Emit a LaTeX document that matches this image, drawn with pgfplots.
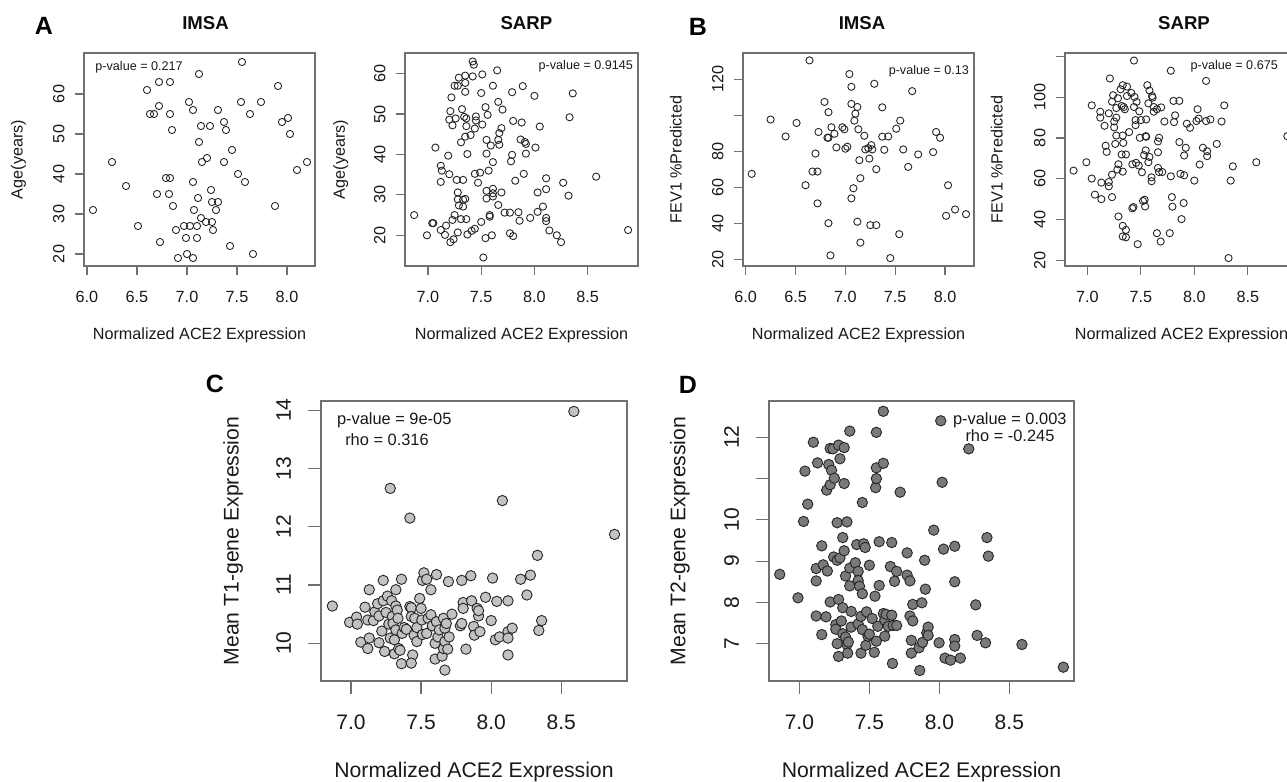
\documentclass[border=0pt]{standalone}
\usepackage{fontspec}
\setmainfont{Liberation Sans}
\usepackage{pgfplots}
\pgfplotsset{compat=1.18}
\definecolor{boxgray}{HTML}{707070}
\definecolor{lightpt}{HTML}{C2C2C2}
\definecolor{darkpt}{HTML}{7A7A7A}

\tikzset{
  ptext/.style={font=\fontsize{6.3}{7}\selectfont, text=black!90, inner sep=0pt},
  ptextb/.style={font=\fontsize{8.2}{9}\selectfont, text=black!90, inner sep=0pt},
}
\pgfplotsset{
  rbase/.style={
    scale only axis,
    axis line style={boxgray, line width=0.6pt},
    tick style={boxgray, line width=0.6pt},
    tick align=outside,
    xtick pos=bottom, ytick pos=left,
    minor tick num=0,
    /pgf/number format/assume math mode=true,
    every tick label/.append style={text=black!90},
    xticklabel style={anchor=base, inner sep=0pt},
    yticklabel style={rotate=90, anchor=base, inner sep=0pt},
    xlabel style={anchor=center, inner sep=0pt, text=black!90},
    ylabel style={anchor=center, inner sep=0pt, text=black!90},
    xlabel={Normalized ACE2 Expression},
  },
  toprow/.style={
    rbase, width=115.5pt, height=106.5pt,
    major tick length=4.5pt,
    tick label style={font=\fontsize{8.1}{10}\selectfont},
    label style={font=\fontsize{8.1}{10}\selectfont},
    xticklabel shift=13.8pt, yticklabel shift=5.3pt,
    xlabel style={at={(axis description cs:0.5,-0.324)}},
  },
  botrow/.style={
    rbase, height=140pt,
    major tick length=6.5pt,
    tick label style={font=\fontsize{10.5}{12}\selectfont},
    label style={font=\fontsize{10.6}{12}\selectfont},
    xticklabel shift=17.6pt, yticklabel shift=8.6pt,
    xtick={7,7.5,8,8.5}, xticklabels={7.0,7.5,8.0,8.5},
    xlabel style={at={(axis description cs:0.5,-0.324)}},
  },
  hollow/.style={only marks, mark=o, mark size=1.8pt,
    mark options={line width=0.45pt, draw=black!85}},
  filled/.style={only marks, mark=*, mark size=2.6pt,
    mark options={line width=0.45pt, draw=black!85, fill=#1}},
}

\begin{document}
\begin{tikzpicture}
\useasboundingbox (0,0) rectangle (643.5pt,391pt);
\clip (0,0) rectangle (643.5pt,391pt);

% ---------------- A: IMSA ----------------
\begin{axis}[toprow, at={(42pt,258pt)}, anchor=south west,
  xmin=5.97, xmax=8.28, ymin=17, ymax=70.25,
  xtick={6,6.5,7,7.5,8}, xticklabels={6.0,6.5,7.0,7.5,8.0},
  ytick={20,30,40,50,60},
  ylabel={Age(years)},
  ylabel style={at={(axis description cs:-0.284,0.5)}},
]
\addplot[hollow] coordinates {
(6.06,31)(6.25,43)(6.39,37)(6.51,27)(6.60,61)(6.72,63)(6.72,57)(6.63,55)(6.67,55)
(6.70,35)(6.73,23)(6.83,63)(6.83,55)(6.85,51)(6.79,39)(6.83,39)(6.82,35)(6.86,32)
(6.89,26)(6.91,19)(6.97,27)(6.99,24)(7.00,20)(7.02,58)(7.06,56)(7.06,38)(7.06,19)
(7.03,27)(7.10,27)(7.10,24)(7.07,31)(7.12,65)(7.14,52)(7.12,48)(7.11,34)(7.15,43)
(7.14,29)(7.20,44)(7.19,28)(7.23,52)(7.24,36)(7.25,33)(7.25,28)(7.26,26)(7.29,31)
(7.31,33)(7.31,56)(7.37,53)(7.39,51)(7.37,43)(7.45,46)(7.43,22)(7.51,40)(7.58,38)
(7.55,68)(7.54,58)(7.63,55)(7.66,20)(7.74,58)(7.88,32)(7.91,62)(7.95,53)(8.01,54)
(8.03,50)(8.10,41)(8.20,43)
};
\node[ptext, anchor=west] at (rel axis cs:0.048,0.931) {p-value = 0.217};
\end{axis}

% ---------------- A: SARP ----------------
\begin{axis}[toprow, at={(202.5pt,258pt)}, anchor=south west, width=116.5pt,
  xmin=6.784, xmax=8.973, ymin=12.4, ymax=65.1,
  xtick={7,7.5,8,8.5}, xticklabels={7.0,7.5,8.0,8.5},
  ytick={20,30,40,50,60},
  ylabel={Age(years)},
  ylabel style={at={(axis description cs:-0.276,0.5)}},
]
\addplot[hollow] coordinates {
(6.87,25.0)(6.99,20)(7.04,23)(7.05,23)(7.07,41.7)(7.12,21.3)(7.12,37.2)(7.13,36)
(7.12,33.2)(7.16,20.1)(7.17,22.4)(7.19,39.7)(7.20,35.1)(7.21,18.3)(7.22,54.1)(7.21,50.7)
(7.20,48.6)(7.23,47.2)(7.24,19)(7.23,23.8)(7.25,25)(7.26,48.9)(7.25,57.0)(7.27,33.7)
(7.28,20.7)(7.28,30.6)(7.28,28.9)(7.29,27.4)(7.29,59.0)(7.28,57)(7.31,43)(7.31,24.0)
(7.33,33.7)(7.32,51.2)(7.33,28.8)(7.33,27.1)(7.34,49.3)(7.35,44.4)(7.35,59.5)(7.35,57.7)
(7.35,55.5)(7.36,48.9)(7.35,29)(7.36,24)(7.37,40.1)(7.37,20.2)(7.36,47)(7.40,44.8)
(7.42,59.3)(7.42,63)(7.43,62.2)(7.41,21.1)(7.44,21.6)(7.45,49.4)(7.45,48.4)(7.44,46.4)
(7.44,35.2)(7.47,33)(7.49,35.5)(7.50,23.3)(7.51,47.4)(7.51,59.8)(7.50,55.2)(7.52,14.5)
(7.54,19.3)(7.55,43.6)(7.55,40.2)(7.56,49.8)(7.54,51.7)(7.55,29.1)(7.55,31)(7.57,36)
(7.58,24.6)(7.58,25.0)(7.59,42.2)(7.61,57)(7.60,20)(7.61,38.1)(7.61,31.5)(7.61,29.6)
(7.61,30.4)(7.65,60.8)(7.66,43.6)(7.66,53)(7.67,42.4)(7.66,27.5)(7.67,45.3)(7.69,46.5)
(7.70,51.1)(7.69,30.6)(7.72,25.6)(7.77,25.6)(7.77,20.5)(7.78,38.3)(7.79,39.9)(7.80,48.3)
(7.80,19.8)(7.79,55.4)(7.82,33.5)(7.85,25.7)(7.86,23.6)(7.88,47.9)(7.87,43.7)(7.89,56.9)
(7.90,35.2)(7.91,43.1)(7.92,42.6)(7.92,40.2)(7.96,24.3)(8.00,54.5)(8.01,41.7)(8.03,30.6)
(8.03,25.8)(8.05,46.9)(8.08,27.1)(8.11,34.1)(8.11,31.4)(8.11,24.3)(8.11,23.5)(8.14,21.2)
(8.21,20)(8.25,18.3)(8.27,33)(8.32,29.8)(8.33,49.2)(8.36,55.1)(8.58,34.5)(8.88,21.3)
};
\node[ptext, anchor=east] at (rel axis cs:0.980,0.936) {p-value = 0.9145};
\end{axis}

% ---------------- B: IMSA ----------------
\begin{axis}[toprow, at={(371.5pt,258pt)}, anchor=south west,
  xmin=5.973, xmax=8.29, ymin=16.3, ymax=134.7,
  xtick={6,6.5,7,7.5,8}, xticklabels={6.0,6.5,7.0,7.5,8.0},
  ytick={20,40,60,80,100,120}, yticklabels={20,40,60,80,,120},
  ylabel={FEV1 \%Predicted},
  ylabel style={at={(axis description cs:-0.291,0.5)}},
]
\addplot[hollow] coordinates {
(6.06,67.5)(6.25,97.7)(6.40,88.3)(6.51,95.8)(6.60,61.2)(6.64,130.6)(6.67,68.8)(6.70,78.8)
(6.72,68.8)(6.72,51.1)(6.73,90.8)(6.79,107.5)(6.82,87.6)(6.83,87.6)(6.83,101.8)(6.83,40.1)
(6.85,22.2)(6.86,93.4)(6.89,89.8)(6.91,82.2)(6.97,93.4)(6.99,92.3)(7.00,81.5)(7.02,82.6)
(7.04,123)(7.06,115.9)(7.06,106.4)(7.06,53.9)(7.08,59.5)(7.10,101)(7.09,97.1)(7.12,104.7)
(7.13,92.3)(7.12,40.9)(7.14,75.1)(7.15,65.1)(7.15,29.3)(7.19,88.7)(7.20,81.1)(7.23,81.8)
(7.24,76)(7.25,39)(7.26,83.5)(7.27,81.1)(7.29,117.6)(7.31,70.1)(7.31,39)(7.37,104.5)
(7.37,88.2)(7.39,80.9)(7.43,88.3)(7.45,20.7)(7.51,92.6)(7.54,34)(7.55,97.1)(7.58,81.1)
(7.63,71.4)(7.67,113.5)(7.73,78.3)(7.88,79.6)(7.91,90.8)(7.95,87.6)(8.01,44.2)(8.03,61.2)
(8.10,47.7)(8.21,45.1)
};
\node[ptext, anchor=east] at (rel axis cs:0.98,0.916) {p-value = 0.13};
\end{axis}

% ---------------- B: SARP ----------------
\begin{axis}[toprow, at={(532.5pt,258pt)}, anchor=south west, width=116.5pt,
  xmin=6.79, xmax=8.97, ymin=17.2, ymax=121.7,
  xtick={7,7.5,8,8.5}, xticklabels={7.0,7.5,8.0,8.5},
  ytick={20,40,60,80,100,120}, yticklabels={20,40,60,80,100,},
  ylabel={FEV1 \%Predicted},
  ylabel style={at={(axis description cs:-0.293,0.5)}},
]
\addplot[hollow] coordinates {
(6.87,64.0)(6.99,68.1)(7.04,96.0)(7.04,60.1)(7.07,52.2)(7.12,92.9)(7.12,90.0)(7.13,58.1)
(7.13,50.0)(7.16,86.0)(7.17,76.2)(7.18,73.2)(7.20,92.1)(7.20,56.3)(7.20,58.4)(7.21,109.2)
(7.23,97.8)(7.23,51.0)(7.23,62.0)(7.24,101.0)(7.25,88.1)(7.25,85.2)(7.26,77.1)(7.27,81.2)
(7.27,90.0)(7.27,94.7)(7.285,99.5)(7.28,64.5)(7.29,67.1)(7.29,41.5)(7.31,103.9)(7.32,95.7)
(7.33,105.9)(7.33,36.9)(7.33,63.5)(7.33,31.7)(7.335,77.6)(7.33,81.2)(7.32,71.9)(7.34,95.2)
(7.35,94.1)(7.36,31.3)(7.36,34.9)(7.36,71.9)(7.37,105.2)(7.37,100.6)(7.39,82.9)(7.41,102.1)
(7.42,67.1)(7.42,45.5)(7.43,46.1)(7.435,118)(7.435,95.2)(7.44,100.1)(7.45,86.3)(7.45,88.8)
(7.455,67.8)(7.46,97.7)(7.47,27.9)(7.48,66.5)(7.49,80.1)(7.485,93.1)(7.50,88.8)(7.51,63.2)
(7.52,49.1)(7.535,49.7)(7.53,71.6)(7.545,73.9)(7.54,46.4)(7.545,80.9)(7.55,80.6)(7.55,89.1)
(7.56,105.9)(7.57,97.0)(7.57,68.1)(7.58,70.7)(7.58,103.3)(7.60,60.7)(7.60,58.8)(7.605,100.6)
(7.61,99.8)(7.62,92.9)(7.62,95.2)(7.65,33.3)(7.65,94.1)(7.67,80.1)(7.66,78.3)(7.66,73.0)
(7.66,65.3)(7.67,63.3)(7.685,29.2)(7.69,95.0)(7.70,63.3)(7.72,88.1)(7.77,33.3)(7.78,61.2)
(7.78,113)(7.79,51.0)(7.795,46.3)(7.805,98.2)(7.81,87.8)(7.82,91.1)(7.86,98.2)(7.86,78.0)
(7.87,62.4)(7.88,40.2)(7.90,48.1)(7.905,61.7)(7.905,71.4)(7.92,75.2)(7.93,87.0)(7.96,85.0)
(8.00,59.1)(8.02,88.3)(8.03,94.1)(8.04,89.5)(8.05,67.0)(8.08,75.2)(8.11,88.3)(8.11,108)
(8.12,73.5)(8.12,71.1)(8.15,89.1)(8.21,77.1)(8.255,88.1)(8.28,96.0)(8.32,21.1)(8.34,59.1)
(8.36,66.1)(8.58,68.1)(8.87,80.9)
};
\node[ptext, anchor=east] at (rel axis cs:0.915,0.94) {p-value = 0.675};
\end{axis}

% ---------------- C ----------------
\begin{axis}[botrow, at={(160.5pt,50.5pt)}, anchor=south west, width=153pt,
  xmin=6.786, xmax=8.969, ymin=9.353, ymax=14.16,
  ytick={10,11,12,13,14},
  ylabel={Mean T1-gene Expression},
  ylabel style={at={(axis description cs:-0.287,0.5)}},
]
\addplot[filled=lightpt] coordinates {
(6.867,10.64)(6.99,10.36)(7.04,10.45)(7.045,10.33)(7.07,10.02)(7.10,10.62)(7.13,10.92)
(7.12,10.40)(7.12,9.91)(7.13,10.09)(7.16,10.39)(7.17,10.54)(7.19,10.68)(7.20,10.47)
(7.20,10.01)(7.22,10.21)(7.23,11.08)(7.23,10.73)(7.24,9.86)(7.25,10.53)(7.26,10.81)
(7.27,10.33)(7.28,10.09)(7.28,12.66)(7.29,10.73)(7.295,10.46)(7.30,10.34)(7.31,10.06)
(7.32,10.92)(7.32,10.64)(7.31,9.82)(7.33,10.57)(7.32,10.23)(7.335,10.43)(7.34,9.91)
(7.35,9.88)(7.36,11.10)(7.36,9.65)(7.365,10.17)(7.38,10.27)(7.395,10.24)(7.42,12.15)
(7.42,10.63)(7.43,10.61)(7.43,10.46)(7.44,9.80)(7.43,9.66)(7.45,10.14)(7.455,10.43)
(7.47,10.03)(7.47,10.27)(7.49,10.77)(7.50,10.60)(7.51,11.08)(7.52,11.21)(7.505,10.40)
(7.51,10.15)(7.54,11.10)(7.54,10.17)(7.55,10.43)(7.57,10.49)(7.57,10.92)(7.58,10.30)
(7.60,10.00)(7.60,9.73)(7.61,10.37)(7.61,11.18)(7.62,10.11)(7.63,10.23)(7.65,9.78)
(7.66,9.91)(7.66,10.43)(7.67,9.54)(7.67,10.26)(7.67,10.03)(7.68,10.34)(7.69,9.90)
(7.695,11.06)(7.70,10.11)(7.72,10.50)(7.78,10.30)(7.79,10.34)(7.79,11.08)(7.80,10.70)
(7.80,10.60)(7.82,9.90)(7.855,11.16)(7.86,10.73)(7.875,10.29)(7.88,10.14)(7.90,10.60)
(7.91,10.47)(7.91,10.56)(7.92,10.20)(7.96,10.79)(8.00,10.39)(8.01,11.12)(8.03,10.06)
(8.04,10.72)(8.06,10.11)(8.08,12.45)(8.12,10.73)(8.12,9.80)(8.12,10.20)(8.12,10.09)
(8.15,10.26)(8.21,11.10)(8.255,10.83)(8.28,11.17)(8.33,11.51)(8.34,10.22)(8.36,10.39)
(8.59,13.98)(8.88,11.87)
};
\node[ptextb, anchor=west] at (rel axis cs:0.051,0.930) {p-value = 9e-05};
\node[ptextb, anchor=west] at (rel axis cs:0.078,0.863) {rho = 0.316};
\end{axis}

% ---------------- D ----------------
\begin{axis}[botrow, at={(384.5pt,50.5pt)}, anchor=south west, width=152.5pt,
  xmin=6.783, xmax=8.962, ymin=6.095, ymax=12.88,
  ytick={7,8,9,10,11,12}, yticklabels={7,8,9,10,,12},
  ylabel={Mean T2-gene Expression},
  ylabel style={at={(axis description cs:-0.292,0.5)}},
]
\addplot[filled=darkpt] coordinates {
(6.86,8.68)(6.99,8.11)(7.03,9.96)(7.04,11.18)(7.06,10.38)(7.10,11.88)(7.12,7.67)(7.12,8.82)
(7.12,8.52)(7.13,11.38)(7.16,7.22)(7.16,9.37)(7.17,8.91)(7.19,7.65)(7.20,8.76)(7.195,10.72)
(7.21,11.34)(7.22,8.01)(7.22,10.85)(7.23,11.20)(7.22,11.73)(7.24,11.72)(7.245,9.10)(7.25,11.01)
(7.26,7.46)(7.26,7.35)(7.27,9.93)(7.27,7.00)(7.27,9.02)(7.28,11.81)(7.28,8.07)(7.28,6.69)
(7.29,11.48)(7.29,9.08)(7.30,7.55)(7.31,7.24)(7.31,9.57)(7.31,7.87)(7.32,11.75)(7.32,9.25)
(7.32,10.88)(7.33,7.16)(7.33,8.64)(7.34,9.95)(7.34,6.98)(7.345,6.77)(7.35,7.04)(7.36,12.15)
(7.36,8.40)(7.36,8.83)(7.37,7.40)(7.37,7.78)(7.40,8.96)(7.41,9.40)(7.42,8.75)(7.42,8.53)
(7.42,7.48)(7.43,8.39)(7.44,7.66)(7.44,6.77)(7.45,10.42)(7.45,8.21)(7.45,7.34)(7.46,9.42)
(7.47,9.33)(7.475,6.96)(7.48,7.77)(7.49,7.18)(7.50,8.90)(7.50,7.23)(7.52,7.61)(7.535,6.79)
(7.54,8.15)(7.545,10.78)(7.55,12.12)(7.55,7.06)(7.55,11.00)(7.55,11.26)(7.56,7.42)(7.57,8.41)
(7.57,9.47)(7.60,11.37)(7.60,12.63)(7.60,7.73)(7.61,7.57)(7.61,7.18)(7.62,7.71)(7.635,7.42)
(7.65,8.87)(7.66,7.69)(7.66,9.45)(7.665,6.52)(7.67,7.44)(7.68,8.51)(7.695,8.75)(7.695,7.44)
(7.72,10.67)(7.77,8.66)(7.77,9.20)(7.79,7.67)(7.79,8.52)(7.80,6.77)(7.80,7.08)(7.81,7.55)
(7.81,7.95)(7.855,6.90)(7.86,6.35)(7.875,7.99)(7.88,7.03)(7.895,9.02)(7.90,8.32)(7.91,7.26)
(7.92,7.40)(7.92,7.20)(7.96,9.75)(7.998,7.02)(8.01,12.40)(8.02,10.91)(8.03,9.29)(8.04,6.65)
(8.08,6.60)(8.11,9.36)(8.11,8.50)(8.11,7.10)(8.11,6.94)(8.15,6.65)(8.21,11.72)(8.26,7.94)
(8.27,7.20)(8.33,7.02)(8.34,9.57)(8.35,9.12)(8.59,6.98)(8.886,6.43)
};
\node[ptextb, anchor=west] at (rel axis cs:0.602,0.932) {p-value = 0.003};
\node[ptextb, anchor=west] at (rel axis cs:0.643,0.875) {rho = -0.245};
\end{axis}

% panel titles and letters
\begin{scope}[every node/.style={font=\bfseries\fontsize{9.3}{11}\selectfont, text=black!95, inner sep=0pt}]
\node at (102.75pt,379.5pt) {IMSA};
\node at (263.2pt,379.5pt) {SARP};
\node at (431pt,379.5pt) {IMSA};
\node at (592pt,379.5pt) {SARP};
\end{scope}
\begin{scope}[every node/.style={font=\bfseries\fontsize{12.5}{14}\selectfont, text=black, inner sep=0pt}]
\node at (22pt,378pt) {A};
\node at (349pt,377.5pt) {B};
\node at (107.5pt,199pt) {C};
\node at (344pt,198.5pt) {D};
\end{scope}
\end{tikzpicture}
\end{document}
